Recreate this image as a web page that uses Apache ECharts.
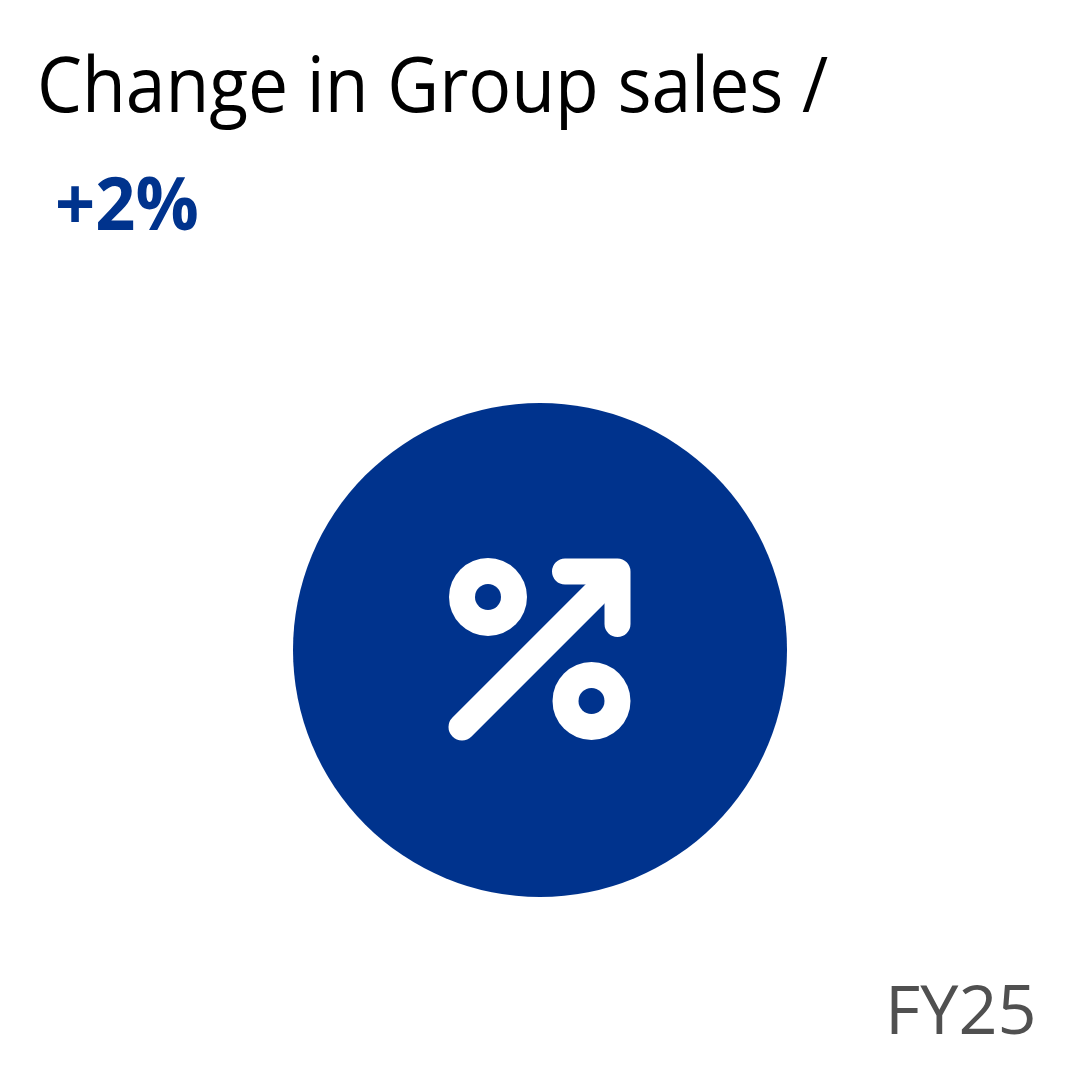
<!DOCTYPE html>
<html><head><meta charset="utf-8">
<style>html,body{margin:0;padding:0;background:#fff}#c{width:1080px;height:1080px}</style>
<script src="https://cdn.jsdelivr.net/npm/echarts@6/dist/echarts.min.js"></script></head>
<body><div id="c"></div>
<script>
const titleText = 'Change in Group sales /';
const kpiText = '+2%';
const periodText = 'FY25';
const kpiValues = [100];
const blue = '#00338D';
const font = '"Open Sans", Lato, sans-serif';
const chart = echarts.init(document.getElementById('c'), null, {renderer:'canvas'});
chart.setOption({
  animation:false,
  backgroundColor:'#fff',
  series:[{
    type:'pie', center:[540,650], radius:[0,247], silent:true,
    label:{show:false}, labelLine:{show:false},
    data:kpiValues.map(v=>({value:v,itemStyle:{color:blue}}))
  }],
  graphic:[
    {type:'text',x:37,y:52,scaleX:0.94,style:{text:titleText,fill:'#000',font:'500 76px '+font}},
    {type:'text',x:55,y:172,scaleX:0.95,style:{text:kpiText,fill:blue,font:'700 74px '+font}},
    {type:'text',x:885,y:981,scaleX:1.02,style:{text:periodText,fill:'#505050',font:'500 67px '+font}},
    // percent-arrow icon: rings as filled discs so edges stay smooth
    {type:'circle',shape:{cx:488,cy:597,r:39},style:{fill:'#fff'},z:10},
    {type:'circle',shape:{cx:488,cy:597,r:13},style:{fill:blue},z:11},
    {type:'circle',shape:{cx:591.5,cy:701,r:39},style:{fill:'#fff'},z:10},
    {type:'circle',shape:{cx:591.5,cy:701,r:13},style:{fill:blue},z:11},
    {type:'line',shape:{x1:462,y1:727,x2:604,y2:585},style:{stroke:'#fff',lineWidth:27,lineCap:'round'},z:10},
    {type:'polyline',shape:{points:[[565,571.5],[617.5,571.5],[617.5,624]]},style:{fill:'none',stroke:'#fff',lineWidth:26,lineCap:'round',lineJoin:'round'},z:10}
  ]
});
</script></body></html>
